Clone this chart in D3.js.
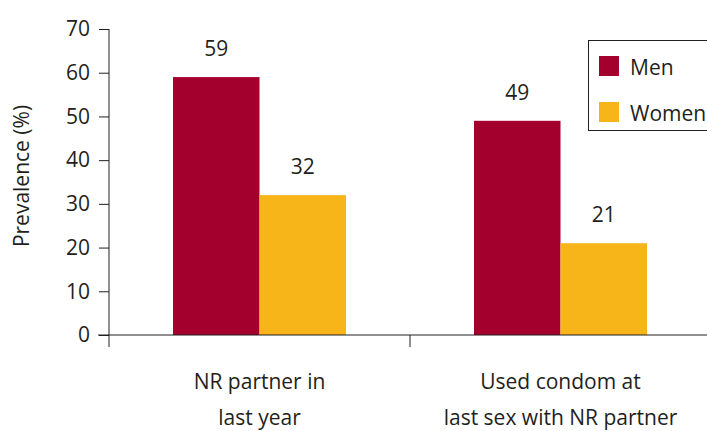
<!DOCTYPE html>
<html lang="en">
<head>
    <meta charset="UTF-8">
    <title>Prevalence by sex</title>
    <script src="https://d3js.org/d3.v7.min.js"></script>
    <style>
        body { margin: 0; background: #fff; }
        svg text { font-family: "Open Sans", sans-serif; fill: #231f20; }
    </style>
</head>
<body>
    <svg id="chart"></svg>

    <script>
        // data
        const categories = ["NR partner in|last year", "Used condom at|last sex with NR partner"];
        const seriesNames = ["Men", "Women"];
        const menValues = [59, 49];
        const womenValues = [32, 21];
        const yTicks = [0, 10, 20, 30, 40, 50, 60, 70];
        const colors = ["#a3002d", "#f7b51a"];

        const width = 707, height = 431;
        const plotLeft = 109, plotRight = 711, plotTop = 29, plotBottom = 335;

        const data = categories.map((c, i) => ({ cat: c, values: [menValues[i], womenValues[i]] }));

        const svg = d3.select("#chart")
            .attr("width", width)
            .attr("height", height);

        const x0 = d3.scaleBand()
            .domain(categories)
            .range([plotLeft, plotRight])
            .padding(0);

        const x1 = d3.scaleBand()
            .domain(seriesNames)
            .range([0, x0.bandwidth()])
            .paddingInner(0)
            .paddingOuter(0.74);

        const y = d3.scaleLinear()
            .domain([0, 70])
            .range([plotBottom, plotTop]);

        const color = d3.scaleOrdinal().domain(seriesNames).range(colors);

        // bars
        const groups = svg.selectAll(".group")
            .data(data)
            .join("g")
            .attr("class", "group")
            .attr("transform", d => `translate(${x0(d.cat)},0)`);

        groups.selectAll("rect")
            .data(d => d.values.map((v, i) => ({ key: seriesNames[i], value: v })))
            .join("rect")
            .attr("x", d => x1(d.key))
            .attr("width", x1.bandwidth())
            .attr("y", d => y(d.value))
            .attr("height", d => y(0) - y(d.value))
            .attr("fill", d => color(d.key));

        groups.selectAll(".val")
            .data(d => d.values.map((v, i) => ({ key: seriesNames[i], value: v })))
            .join("text")
            .attr("class", "val")
            .attr("x", d => x1(d.key) + x1.bandwidth() / 2)
            .attr("y", d => y(d.value) - 21)
            .attr("text-anchor", "middle")
            .style("font-size", "21px")
            .text(d => d.value);

        // y axis
        const yAxis = svg.append("g")
            .attr("transform", `translate(${plotLeft},0)`)
            .call(d3.axisLeft(y).tickValues(yTicks).tickSize(10).tickPadding(9));
        yAxis.select(".domain").remove();
        yAxis.selectAll("line").attr("stroke", "#231f20");
        yAxis.selectAll("text").style("font-size", "21px").attr("fill", "#231f20");

        svg.append("line")
            .attr("x1", plotLeft).attr("x2", plotLeft)
            .attr("y1", y(70)).attr("y2", plotBottom + 12)
            .attr("stroke", "#231f20");

        // x axis
        svg.append("line")
            .attr("x1", plotLeft - 11).attr("x2", width)
            .attr("y1", plotBottom).attr("y2", plotBottom)
            .attr("stroke", "#231f20");

        svg.selectAll(".xtick")
            .data(categories.slice(1))
            .join("line")
            .attr("class", "xtick")
            .attr("x1", d => x0(d)).attr("x2", d => x0(d))
            .attr("y1", plotBottom).attr("y2", plotBottom + 12)
            .attr("stroke", "#231f20");

        const catLabels = svg.selectAll(".cat")
            .data(categories)
            .join("text")
            .attr("class", "cat")
            .attr("text-anchor", "middle")
            .style("font-size", "21px");

        catLabels.selectAll("tspan")
            .data(d => d.split("|").map(line => ({ line, cat: d })))
            .join("tspan")
            .attr("x", d => x0(d.cat) + x0.bandwidth() / 2)
            .attr("y", (d, i) => 389 + i * 36)
            .text(d => d.line);

        // y title
        svg.append("text")
            .attr("transform", `translate(29,176) rotate(-90)`)
            .attr("text-anchor", "middle")
            .style("font-size", "21px")
            .text("Prevalence (%)");

        // legend
        const legend = svg.append("g");
        legend.append("rect")
            .attr("x", 588.5).attr("y", 40.5)
            .attr("width", 130).attr("height", 90)
            .attr("fill", "#fff")
            .attr("stroke", "#231f20");

        const items = legend.selectAll(".item")
            .data(seriesNames)
            .join("g")
            .attr("class", "item")
            .attr("transform", (d, i) => `translate(599,${56 + i * 46})`);

        items.append("rect")
            .attr("width", 20).attr("height", 20)
            .attr("fill", d => color(d));

        items.append("text")
            .attr("x", 31).attr("y", 19)
            .style("font-size", "21px")
            .text(d => d);
    </script>
</body>
</html>
